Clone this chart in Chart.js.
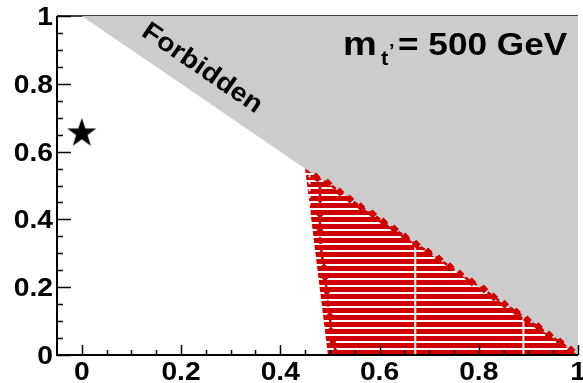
<!DOCTYPE html>
<html>
<head>
<meta charset="utf-8">
<script src="https://cdn.jsdelivr.net/npm/chart.js@4.4.0/dist/chart.umd.min.js"></script>
<style>
  html, body { margin: 0; padding: 0; background: #fff; }
  canvas { display: block; }
</style>
</head>
<body>
<canvas id="plot" width="583" height="383"></canvas>
<script>
// forbidden corner (above the diagonal)
const forbiddenX = [0, 1];
const forbiddenY = [1, 0];

// hatched allowed region: upper and lower boundary
const regionTopX = [0.45, 1.0];
const regionTopY = [0.55, 0.0];
const regionBotX = [0.45, 0.496, 1.0];
const regionBotY = [0.55, 0.0, 0.0];

// white gaps in the hatching
const gapX = [0.672, 0.89, 0.459];
const gapTop = [0.328, 0.11, 0.53];
const gapBottom = [0, 0, 0.38];

// red contour along the diagonal
const diagX = [0.472, 0.496, 0.52, 0.54, 0.562, 0.586, 0.608, 0.63, 0.652, 0.674, 0.698, 0.72,
               0.742, 0.762, 0.786, 0.81, 0.83, 0.852, 0.876, 0.898, 0.92, 0.942, 0.964, 0.986];
const diagY = [0.525, 0.507, 0.481, 0.46, 0.437, 0.416, 0.392, 0.372, 0.348, 0.327, 0.304, 0.283,
               0.26, 0.239, 0.215, 0.195, 0.171, 0.15, 0.127, 0.103, 0.083, 0.059, 0.038, 0.015];

// red contour on the left edge
const leftX = [0.472, 0.48, 0.48, 0.48, 0.48, 0.48, 0.484, 0.488, 0.49, 0.494, 0.496, 0.5, 0.502, 0.506, 0.512];
const leftY = [0.525, 0.501, 0.457, 0.413, 0.369, 0.339, 0.295, 0.26, 0.227, 0.186, 0.153, 0.118, 0.074, 0.038, 0.009];

// benchmark point
const starX = [0];
const starY = [0.654];

// axis ticks
const xTicks = [0, 0.2, 0.4, 0.6, 0.8, 1];
const xLabels = ['0', '0.2', '0.4', '0.6', '0.8', '1'];
const yTicks = [0, 0.2, 0.4, 0.6, 0.8, 1];
const yLabels = ['0', '0.2', '0.4', '0.6', '0.8', '1'];

const RED = 'rgb(208,0,0)';
const pts = (xs, ys) => xs.map((x, i) => ({ x: x, y: ys[i] }));

// horizontal hatch pattern
const pc = document.createElement('canvas');
pc.width = 8; pc.height = 7;
const pctx = pc.getContext('2d');
pctx.fillStyle = '#fff';
pctx.fillRect(0, 0, 8, 7);
pctx.fillStyle = RED;
pctx.fillRect(0, 0, 8, 5);
const hatch = pctx.createPattern(pc, 'repeat');

// filled star marker
const starImg = document.createElement('canvas');
starImg.width = 34; starImg.height = 34;
(function () {
  const c = starImg.getContext('2d');
  const R = 15.3, r = 6.0;
  c.translate(17, 17);
  c.beginPath();
  for (let i = 0; i < 10; i++) {
    const a = -Math.PI / 2 + i * Math.PI / 5;
    const rad = i % 2 ? r : R;
    c.lineTo(rad * Math.cos(a), rad * Math.sin(a));
  }
  c.closePath();
  c.fillStyle = '#000';
  c.fill();
})();

function txt(ctx, s, x, y, size, align, sx) {
  ctx.save();
  ctx.translate(x, y);
  ctx.scale(sx, 1);
  ctx.font = 'bold ' + size + 'px "Liberation Sans", Arial, sans-serif';
  ctx.textAlign = align;
  ctx.textBaseline = 'alphabetic';
  ctx.fillStyle = '#000';
  ctx.fillText(s, 0, 0);
  ctx.restore();
}

const framePlugin = {
  id: 'frame',
  beforeDatasetsDraw(chart) {
    const ctx = chart.ctx, a = chart.chartArea;
    ctx.save();
    ctx.strokeStyle = '#000';
    ctx.lineWidth = 1.5;
    ctx.beginPath();
    ctx.moveTo(a.left, a.top);
    ctx.lineTo(a.right, a.top);
    ctx.stroke();
    ctx.restore();
  },
  afterDraw(chart) {
    const ctx = chart.ctx, a = chart.chartArea;
    const xs = chart.scales.x, ys = chart.scales.y;
    ctx.save();
    ctx.strokeStyle = '#000';
    ctx.lineWidth = 2;
    ctx.beginPath();
    ctx.moveTo(a.left, a.top);
    ctx.lineTo(a.left, a.bottom);
    ctx.lineTo(a.right, a.bottom);
    ctx.stroke();

    // minor ticks every 0.05, major at labels
    ctx.lineWidth = 1.5;
    ctx.beginPath();
    for (let k = 0; k <= 20; k++) {
      const v = k * 0.05;
      const major = k % 4 === 0;
      const py = Math.round(ys.getPixelForValue(v)) + 0.5;
      ctx.moveTo(a.left, py);
      ctx.lineTo(a.left + (major ? 14 : 6), py);
      const px = Math.round(xs.getPixelForValue(v)) + 0.5;
      ctx.moveTo(px, a.bottom);
      ctx.lineTo(px, a.bottom - (major ? 10 : 5));
    }
    ctx.stroke();

    yTicks.forEach((v, i) => txt(ctx, yLabels[i], a.left - 4, ys.getPixelForValue(v) + 9, 25, 'right', 1.13));
    xTicks.forEach((v, i) => txt(ctx, xLabels[i], xs.getPixelForValue(v), a.bottom + 25, 25, 'center', 1.13));

    // label of the forbidden corner
    ctx.save();
    ctx.translate(203, 67);
    ctx.rotate(Math.atan2(ys.getPixelForValue(0) - ys.getPixelForValue(1),
                          xs.getPixelForValue(1) - xs.getPixelForValue(0)));
    txt(ctx, 'Forbidden', 0, 9, 26, 'center', 1.1);
    ctx.restore();

    // mass label
    txt(ctx, 'm', 343, 55, 33, 'left', 1.15);
    txt(ctx, 't', 381, 65, 20, 'left', 1.1);
    txt(ctx, '\u2019', 389, 57, 18, 'left', 1.1);
    txt(ctx, '= 500 GeV', 398, 55, 32, 'left', 1.1);
    ctx.restore();
  }
};

const gapSet = (i, dash) => ({
  data: [{ x: gapX[i], y: gapBottom[i] }, { x: gapX[i], y: gapTop[i] }],
  borderColor: '#fff', borderWidth: 2, borderDash: dash, pointRadius: 0, fill: false, order: 2
});

new Chart(document.getElementById('plot'), {
  type: 'line',
  data: {
    datasets: [
      { data: pts(starX, starY), showLine: false, pointStyle: starImg, order: 0 },
      { data: pts(diagX, diagY), borderColor: RED, borderWidth: 2.5, borderDash: [5, 4],
        pointStyle: 'rectRot', pointRadius: 4.5, pointBackgroundColor: RED, pointBorderColor: RED,
        pointBorderWidth: 0, fill: false, order: 1 },
      { data: pts(leftX, leftY), borderColor: RED, borderWidth: 2.5, borderDash: [5, 4],
        pointStyle: 'rectRot', pointRadius: 3.5, pointBackgroundColor: RED, pointBorderColor: RED,
        pointBorderWidth: 0, fill: false, order: 1 },
      gapSet(0, []),
      gapSet(1, []),
      gapSet(2, [4, 3]),
      { data: pts(regionTopX, regionTopY), borderWidth: 0, pointRadius: 0,
        backgroundColor: hatch, fill: 7, order: 3 },
      { data: pts(regionBotX, regionBotY), borderWidth: 0, pointRadius: 0, fill: false, order: 3 },
      { data: pts(forbiddenX, forbiddenY), borderWidth: 0, pointRadius: 0,
        backgroundColor: '#cccccc', fill: 'end', order: 4 }
    ]
  },
  options: {
    responsive: false,
    animation: false,
    devicePixelRatio: 1,
    layout: { padding: { left: 57, top: 16, right: 0, bottom: 28 } },
    plugins: { legend: { display: false }, tooltip: { enabled: false } },
    elements: { line: { tension: 0 } },
    scales: {
      x: { type: 'linear', min: -0.05, max: 1, display: false },
      y: { type: 'linear', min: 0, max: 1, display: false }
    }
  },
  plugins: [framePlugin]
});
</script>
</body>
</html>
